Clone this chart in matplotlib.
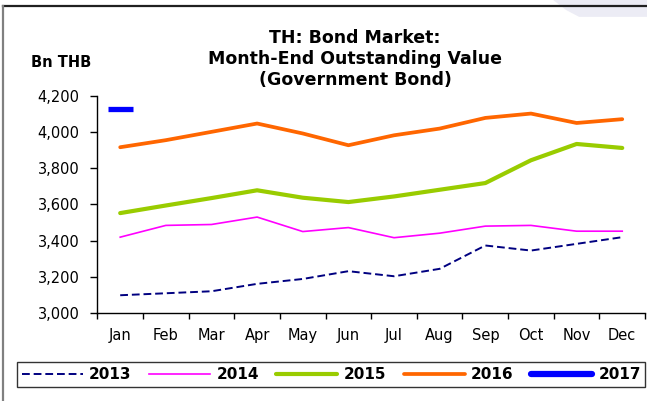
import matplotlib.pyplot as plt
from matplotlib.patches import Polygon
from matplotlib.lines import Line2D
from matplotlib.ticker import FixedLocator, FuncFormatter

plt.rcParams['font.family'] = 'DejaVu Sans'

months = ["Jan", "Feb", "Mar", "Apr", "May", "Jun",
          "Jul", "Aug", "Sep", "Oct", "Nov", "Dec"]

# Month-end outstanding value, Bn THB
y2013 = [3098, 3109, 3120, 3161, 3188, 3231, 3203, 3244, 3373, 3345, 3382, 3419]
y2014 = [3419, 3484, 3489, 3530, 3450, 3472, 3416, 3441, 3480, 3484, 3452, 3452]
y2015 = [3552, 3594, 3635, 3678, 3637, 3613, 3644, 3681, 3718, 3844, 3934, 3912]
y2016 = [3916, 3955, 4001, 4047, 3992, 3927, 3982, 4019, 4078, 4102, 4050, 4071]
y2017 = [4130]

yticks = [3000, 3200, 3400, 3600, 3800, 4000, 4200]

navy = "#000080"
magenta = "#FF00FF"
green = "#99CC00"
orange = "#FF6600"
blue = "#0000FF"
dash = (0, (4, 2))

fig = plt.figure(figsize=(6.47, 4.01), dpi=100)
fig.patch.set_facecolor("white")

# faint shape in the top right corner of the slide
fig.patches.append(Polygon([(0.855, 1.0), (1.0, 1.0), (1.0, 0.958), (0.895, 0.958),
                            (0.875, 0.975)],
                           closed=True, transform=fig.transFigure,
                           facecolor="#ECECF5", edgecolor="none", zorder=0))
# slide frame lines
fig.add_artist(Line2D([0.005, 1.0], [0.986, 0.986], transform=fig.transFigure,
                      color="#202020", lw=1.6))
fig.add_artist(Line2D([0.005, 0.005], [0.0, 0.986], transform=fig.transFigure,
                      color="#808080", lw=1.6))

ax = fig.add_axes([0.1505, 0.2195, 0.8465, 0.5415])
x = list(range(len(months)))

ax.plot(x, y2013, color=navy, lw=1.4, ls=dash, label="2013")
ax.plot(x, y2014, color=magenta, lw=1.2, label="2014")
ax.plot(x, y2015, color=green, lw=3.0, solid_capstyle="round", label="2015")
ax.plot(x, y2016, color=orange, lw=2.7, solid_capstyle="round", label="2016")
ax.plot(x[:len(y2017)], y2017, ls="none", marker="_", markersize=18,
        markeredgewidth=3.8, color=blue)

ax.set_xlim(-0.5, 11.5)
ax.set_ylim(3000, 4200)
ax.set_yticks(yticks)
ax.yaxis.set_major_formatter(FuncFormatter(lambda v, p: "{:,.0f}".format(v)))

# ticks at category boundaries, labels at category centres
ax.xaxis.set_major_locator(FixedLocator([i - 0.5 for i in range(13)]))
ax.xaxis.set_minor_locator(FixedLocator(x))
ax.set_xticklabels([], minor=False)
ax.set_xticklabels(months, minor=True)
ax.tick_params(axis="x", which="major", length=4, width=1, direction="out")
ax.tick_params(axis="x", which="minor", length=0, pad=11, labelsize=10.5)
ax.tick_params(axis="y", length=5, width=1, direction="out", pad=8, labelsize=10.5)

ax.spines["top"].set_visible(False)
ax.spines["right"].set_visible(False)
for s in ["left", "bottom"]:
    ax.spines[s].set_linewidth(1.0)

fig.text(0.549, 0.853, "TH: Bond Market:\nMonth-End Outstanding Value\n(Government Bond)",
         ha="center", va="center", fontsize=12.5, fontweight="bold",
         linespacing=1.2)
fig.text(0.094, 0.845, "Bn THB", ha="center", va="center",
         fontsize=10.5, fontweight="bold")

handles = [Line2D([], [], color=navy, lw=1.4, ls=dash),
           Line2D([], [], color=magenta, lw=1.2),
           Line2D([], [], color=green, lw=3.0, solid_capstyle="round"),
           Line2D([], [], color=orange, lw=2.7, solid_capstyle="round"),
           Line2D([], [], color=blue, lw=4.5, solid_capstyle="round")]
labels = ["2013", "2014", "2015", "2016", "2017"]
leg = fig.legend(handles, labels, loc="center", bbox_to_anchor=(0.512, 0.066),
                 ncol=5, frameon=True, fancybox=False, handlelength=4.0,
                 handletextpad=0.4, columnspacing=1.15, borderpad=0.3,
                 borderaxespad=0.0, prop={"weight": "bold", "size": 11})
leg.get_frame().set_edgecolor("black")
leg.get_frame().set_linewidth(1.0)

fig.savefig("out.png", dpi=100)
